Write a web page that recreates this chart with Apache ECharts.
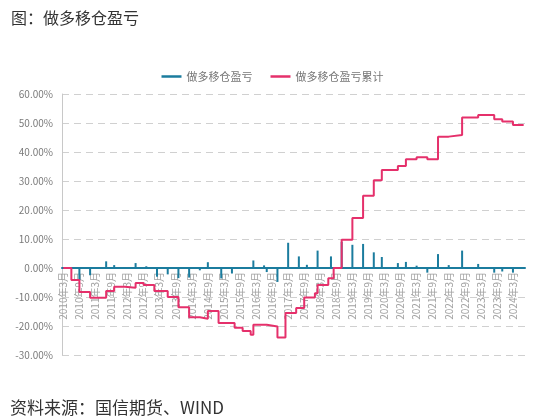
<!DOCTYPE html>
<html>
<head>
<meta charset="utf-8">
<script src="https://cdn.jsdelivr.net/npm/echarts@6/dist/echarts.min.js"></script>
<style>
  html, body { margin: 0; padding: 0; background: #fff; }
  #chart { width: 545px; height: 416px; }
</style>
</head>
<body>
<div id="chart"></div>
<script>
// monthly axis, 2010年3月 .. 2024年7月
const firstYear = 2010, firstMonth = 3, monthCount = 173;
const months = [];
for (let i = 0; i < monthCount; i++) {
  const t = (firstMonth - 1) + i;
  months.push((firstYear + Math.floor(t / 12)) + '年' + (t % 12 + 1) + '月');
}

// per-roll P&L (%), at roll months
const rollMonths = [
  '2010年9月', '2011年1月', '2011年7月', '2011年10月', '2012年2月', '2012年6月',
  '2012年10月', '2013年2月', '2013年6月', '2013年10月', '2014年2月', '2014年6月',
  '2014年9月', '2015年2月', '2015年6月', '2015年10月', '2016年2月', '2016年6月',
  '2016年7月', '2016年11月', '2017年3月', '2017年7月', '2017年10月', '2018年2月',
  '2018年7月', '2018年11月', '2019年3月', '2019年7月', '2019年11月', '2020年2月',
  '2020年8月', '2020年11月', '2021年3月', '2021年7月', '2021年11月', '2022年3月',
  '2022年8月', '2022年11月', '2023年2月', '2023年8月', '2023年11月', '2024年3月'
];
const rollPnl = [
  -4.2, -2.5, 2.3, 1.0, 0.3, 1.7,
  0.6, -3.0, -2.2, -3.5, -3.3, -0.8,
  2.0, -3.6, -1.9, 0.3, 2.6, 0.9,
  -1.4, -4.8, 8.7, 4.0, 1.1, 6.0,
  4.0, 9.0, 8.0, 8.3, 5.4, 3.8,
  1.7, 2.1, 0.8, -1.6, 4.8, 1.0,
  6.0, 0.3, 1.4, -1.6, -1.2, -1.6
];

// cumulative P&L (%), at the months where it changes
const cumMonths = [
  '2010年3月', '2010年6月', '2010年9月', '2011年1月', '2011年7月', '2011年10月',
  '2012年2月', '2012年6月', '2012年9月', '2013年1月', '2013年6月', '2013年10月',
  '2014年2月', '2014年6月', '2014年9月', '2015年1月', '2015年7月', '2015年10月',
  '2016年1月', '2016年2月', '2016年7月', '2016年11月', '2017年2月', '2017年6月',
  '2017年9月', '2018年1月', '2018年2月', '2018年6月', '2018年8月', '2018年11月',
  '2019年3月', '2019年7月', '2019年11月', '2020年2月', '2020年8月', '2020年11月',
  '2021年3月', '2021年7月', '2021年11月', '2022年3月', '2022年8月', '2023年2月',
  '2023年8月', '2023年11月', '2024年3月', '2024年7月'
];
const cumPnl = [
  0, -4.1, -8.3, -10.3, -7.9, -6.5,
  -6.8, -5.2, -5.9, -7.9, -10.0, -13.5,
  -17.0, -17.5, -14.8, -19.0, -20.6, -21.7,
  -23.0, -19.6, -20.2, -24.0, -15.5, -13.8,
  -10.2, -8.7, -5.9, -3.5, 0.0, 9.7,
  17.2, 24.9, 30.3, 33.8, 35.2, 37.5,
  38.2, 37.5, 45.3, 45.9, 51.9, 52.8,
  51.3, 50.5, 49.3, 49.3
];

const teal = '#1b7c9e';
const pink = '#e5306b';

// grid geometry, used to put the category labels right under the 0% line
const gridTop = 94, gridBottom = 61, yMin = -30, yMax = 60;
const plotH = 416 - gridTop - gridBottom;
const zeroShift = -Math.round(plotH * (0 - yMin) / (yMax - yMin));

const chart = echarts.init(document.getElementById('chart'));
chart.setOption({
  animation: false,
  textStyle: { fontFamily: '"Noto Sans CJK SC", "Noto Sans", sans-serif' },
  title: [
    {
      text: '图：做多移仓盈亏',
      left: 6, top: 5,
      textStyle: { fontSize: 16, fontWeight: 'normal', color: '#333' }
    },
    {
      text: '资料来源：国信期货、WIND',
      left: 5, top: 394,
      textStyle: { fontSize: 17, fontWeight: 'normal', color: '#333' }
    }
  ],
  legend: {
    top: 66, left: 'center',
    icon: 'rect', itemWidth: 20, itemHeight: 2.5, itemGap: 18,
    textStyle: { fontSize: 11, color: '#777' },
    data: ['做多移仓盈亏', '做多移仓盈亏累计']
  },
  grid: { left: 62, right: 20, top: gridTop, bottom: gridBottom, containLabel: false },
  xAxis: {
    type: 'category',
    data: months,
    offset: zeroShift,
    axisLine: { onZero: false, lineStyle: { color: teal, width: 2 } },
    axisTick: { interval: 5, length: 3, lineStyle: { color: '#c4c4c4' } },
    axisLabel: { interval: 5, rotate: 90, fontSize: 10, color: '#a0a0a0', margin: 4 }
  },
  yAxis: {
    type: 'value',
    min: yMin, max: yMax, interval: 10,
    axisLine: { show: true, lineStyle: { color: '#c8c8c8' } },
    axisTick: { show: false },
    axisLabel: { formatter: v => v.toFixed(2) + '%', fontSize: 10, color: '#7a7a7a', margin: 9 },
    splitLine: { lineStyle: { color: '#d0d0d0', type: [7, 5] } }
  },
  series: [
    {
      name: '做多移仓盈亏',
      type: 'bar',
      barWidth: 2,
      itemStyle: { color: teal },
      data: rollMonths.map((m, i) => [m, rollPnl[i]])
    },
    {
      name: '做多移仓盈亏累计',
      type: 'line',
      step: 'end',
      showSymbol: false,
      symbol: 'none',
      lineStyle: { color: pink, width: 2 },
      itemStyle: { color: pink },
      data: cumMonths.map((m, i) => [m, cumPnl[i]])
    }
  ]
});
</script>
</body>
</html>
